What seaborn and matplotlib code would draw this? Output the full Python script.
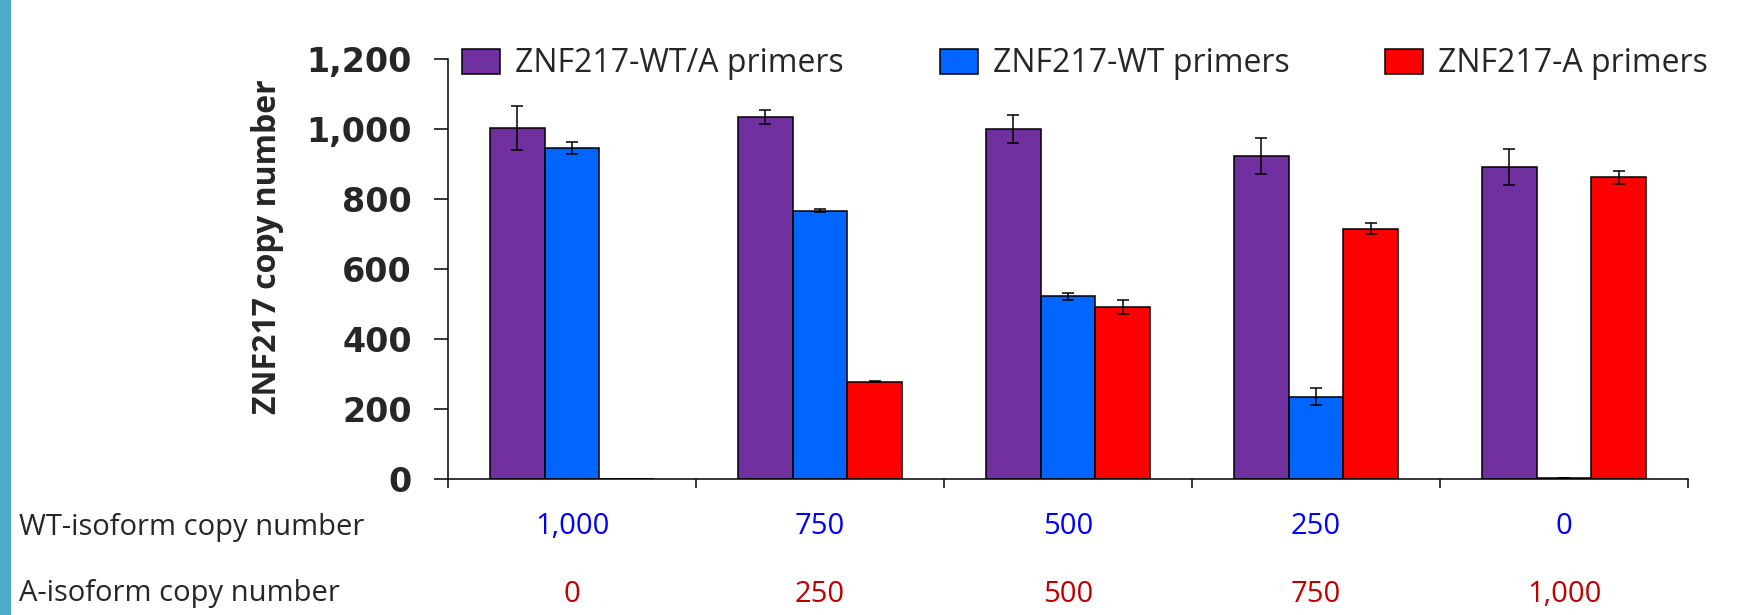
import numpy as np
import pandas as pd
import seaborn as sns
import matplotlib.pyplot as plt
from matplotlib import transforms
from matplotlib.patches import Patch, Rectangle

sns.set_style("ticks")
plt.rcParams["font.family"] = ["Open Sans", "DejaVu Sans"]

# data
wt_copies = ["1,000", "750", "500", "250", "0"]
a_copies = ["0", "250", "500", "750", "1,000"]
primers = ["ZNF217-WT/A primers", "ZNF217-WT primers", "ZNF217-A primers"]
wt_a_mean = [1003, 1035, 999, 922, 891]
wt_a_err = [64, 20, 40, 51, 52]
wt_mean = [946, 766, 522, 235, 3]
wt_err = [18, 4, 10, 24, 1]
a_mean = [0, 278, 491, 715, 862]
a_err = [0, 2, 20, 15, 18]
colors = ["#7030A0", "#0066FF", "#FF0000"]
yticks = [0, 200, 400, 600, 800, 1000, 1200]

df = pd.DataFrame({
    "mix": wt_copies * 3,
    "primer": np.repeat(primers, len(wt_copies)),
    "copies": wt_a_mean + wt_mean + a_mean,
})

fig = plt.figure(figsize=(17.42, 6.15), dpi=100, facecolor="white")
ax = fig.add_axes([448 / 1742, 1 - 479 / 615, 1240 / 1742, 420 / 615])

sns.barplot(
    data=df, x="mix", y="copies", hue="primer",
    order=wt_copies, hue_order=primers, palette=colors, saturation=1,
    width=0.665, edgecolor="black", linewidth=1.1, errorbar=None,
    legend=False, ax=ax,
)

# error bars on top of each bar
for cont, errs in zip(ax.containers, [wt_a_err, wt_err, a_err]):
    for bar, e in zip(cont, errs):
        if e <= 0:
            continue
        ax.errorbar(
            bar.get_x() + bar.get_width() / 2, bar.get_height(), yerr=e,
            fmt="none", ecolor="black", elinewidth=1.1, capsize=4.3, capthick=1.1,
        )

ax.set_xlim(-0.5, len(wt_copies) - 0.5)
ax.set_xticks(np.arange(-0.5, len(wt_copies), 1))
ax.set_xticklabels([])
ax.set_xlabel("")
ax.set_ylim(0, 1200)
ax.set_yticks(yticks)
ax.set_yticklabels([f"{v:,}" for v in yticks], fontfamily="DejaVu Sans",
                   fontweight="bold", fontsize=24)
ax.tick_params(axis="y", direction="out", length=10, width=1.1, pad=16, color="black")
ax.tick_params(axis="x", direction="out", length=6.5, width=1.1, color="black")
sns.despine(ax=ax)
for s in ["left", "bottom"]:
    ax.spines[s].set_linewidth(1.1)
    ax.spines[s].set_color("black")

ax.set_ylabel("ZNF217 copy number", fontsize=23, fontweight="bold")
ax.yaxis.set_label_coords(-0.132, 0.552)

# legend across the top
handles = [Patch(facecolor=c, edgecolor="black", linewidth=1.1) for c in colors]
fig.legend(
    handles, primers, loc="center left", bbox_to_anchor=(462 / 1742, 1 - 64 / 615),
    ncol=3, frameon=False, fontsize=23, handlelength=1.19, handleheight=0.815,
    handletextpad=0.47, columnspacing=3.0, borderpad=0, borderaxespad=0,
)

# copy-number rows under the axis
trans = transforms.blended_transform_factory(ax.transData, fig.transFigure)
for i, (w, a) in enumerate(zip(wt_copies, a_copies)):
    ax.text(i, 1 - 527 / 615, w, color="#0000FF", ha="center", va="center",
            fontsize=21, transform=trans)
    ax.text(i, 1 - 594 / 615, a, color="#C00000", ha="center", va="center",
            fontsize=21, transform=trans)
fig.text(19 / 1742, 1 - 527 / 615, "WT-isoform copy number", ha="left", va="center", fontsize=21)
fig.text(19 / 1742, 1 - 594 / 615, "A-isoform copy number", ha="left", va="center", fontsize=21)

# slide edge strip
fig.add_artist(Rectangle((0, 0), 11 / 1742, 1, transform=fig.transFigure,
                         facecolor="#4BACC6", edgecolor="none"))

fig.savefig("out.png", dpi=100)
plt.close()
